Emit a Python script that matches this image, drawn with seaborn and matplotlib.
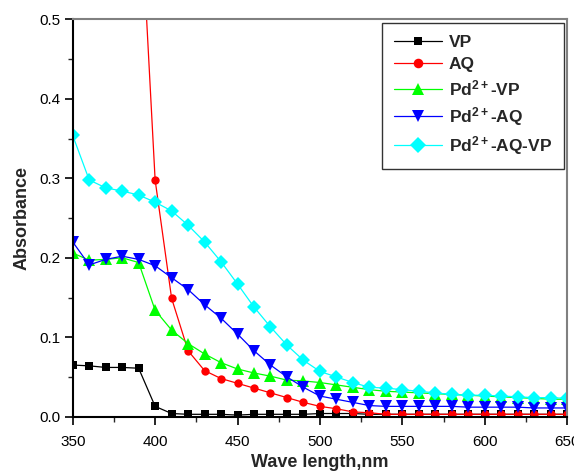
import matplotlib
matplotlib.use("Agg")
import matplotlib.pyplot as plt
from matplotlib.ticker import MultipleLocator
import seaborn as sns
import pandas as pd

wavelength = list(range(350, 651, 10))

vp = [0.065, 0.064, 0.062, 0.062, 0.061, 0.013, 0.004, 0.003, 0.003, 0.003,
      0.002, 0.003, 0.003, 0.003, 0.003, 0.004, 0.004, 0.004, 0.003, 0.003,
      0.003, 0.003, 0.003, 0.003, 0.003, 0.003, 0.003, 0.003, 0.003, 0.003, 0.003]
aq = [1.20, 1.05, 0.93, 0.81, 0.69, 0.298, 0.149, 0.083, 0.058, 0.048,
      0.042, 0.036, 0.030, 0.024, 0.018, 0.013, 0.010, 0.006, 0.005, 0.003,
      0.003, 0.003, 0.003, 0.003, 0.003, 0.003, 0.003, 0.003, 0.003, 0.003, 0.003]
pd_vp = [0.206, 0.197, 0.198, 0.200, 0.194, 0.134, 0.109, 0.092, 0.079, 0.068,
         0.060, 0.055, 0.051, 0.046, 0.045, 0.043, 0.040, 0.037, 0.034, 0.032,
         0.031, 0.030, 0.029, 0.028, 0.027, 0.026, 0.025, 0.024, 0.023, 0.022, 0.022]
pd_aq = [0.220, 0.191, 0.198, 0.202, 0.198, 0.190, 0.175, 0.160, 0.141, 0.124,
         0.104, 0.083, 0.065, 0.050, 0.037, 0.026, 0.022, 0.018, 0.014, 0.013,
         0.013, 0.013, 0.013, 0.013, 0.012, 0.012, 0.012, 0.012, 0.011, 0.011, 0.011]
pd_aq_vp = [0.354, 0.298, 0.288, 0.284, 0.279, 0.270, 0.259, 0.241, 0.220, 0.195,
            0.167, 0.138, 0.113, 0.090, 0.071, 0.057, 0.050, 0.043, 0.037, 0.036,
            0.034, 0.032, 0.030, 0.028, 0.027, 0.027, 0.026, 0.025, 0.024, 0.024, 0.023]

labels = ["VP", "AQ", r"Pd$^{2+}$-VP", r"Pd$^{2+}$-AQ", r"Pd$^{2+}$-AQ-VP"]
series = [vp, aq, pd_vp, pd_aq, pd_aq_vp]
colors = ["#000000", "#ff0000", "#00ff00", "#0000ff", "#00ffff"]
markers = ["s", "o", "^", "v", "D"]
msizes = [5.5, 6.0, 8.0, 8.0, 7.0]

sns.set_style("white")
plt.rcParams["font.family"] = ["Liberation Sans", "DejaVu Sans"]
plt.rcParams["mathtext.fontset"] = "custom"
plt.rcParams["mathtext.rm"] = "Liberation Sans:bold"
plt.rcParams["mathtext.it"] = "Liberation Sans:bold"
plt.rcParams["mathtext.bf"] = "Liberation Sans:bold"

fig = plt.figure(figsize=(5.74, 4.74), dpi=100)
ax = fig.add_axes([0.1267, 0.1209, 0.988 - 0.1267, 0.959 - 0.1209])

for lab, vals, c, m, ms in zip(labels, series, colors, markers, msizes):
    df = pd.DataFrame({"x": wavelength, "y": vals})
    sns.lineplot(data=df, x="x", y="y", ax=ax, color=c, marker=m,
                 markersize=ms, markeredgewidth=0, linewidth=0.9,
                 label=lab, legend=False)

ax.set_xlim(350, 650)
ax.set_ylim(0, 0.5)
ax.xaxis.set_major_locator(MultipleLocator(50))
ax.xaxis.set_minor_locator(MultipleLocator(25))
ax.yaxis.set_major_locator(MultipleLocator(0.1))
ax.yaxis.set_minor_locator(MultipleLocator(0.05))
ax.yaxis.set_major_formatter(matplotlib.ticker.FormatStrFormatter("%.1f"))

ax.tick_params(axis="both", which="major", direction="out", length=6, width=1.2,
               labelsize=11, bottom=True, left=True, top=False, right=False,
               colors="black")
ax.tick_params(axis="x", which="major", pad=7)
ax.tick_params(axis="y", which="major", pad=3)
ax.tick_params(axis="both", which="minor", direction="out", length=3.5, width=1.0,
               bottom=True, left=True, top=False, right=False)

for s in ["left", "bottom"]:
    ax.spines[s].set_color("black")
    ax.spines[s].set_linewidth(1.5)
for s in ["top", "right"]:
    ax.spines[s].set_color("#808080")
    ax.spines[s].set_linewidth(1.5)

ax.set_xlabel("Wave length,nm", fontsize=13, fontweight="bold", labelpad=4)
ax.set_ylabel("Absorbance", fontsize=13, fontweight="bold", labelpad=6)

leg = ax.legend(loc="upper right", frameon=True, fancybox=False, shadow=False,
                prop={"size": 12.5, "weight": "bold"}, handlelength=2.76,
                labelspacing=0.38, borderaxespad=0.2, borderpad=0.68,
                handletextpad=0.38, markerscale=1.15)
leg.get_frame().set_edgecolor("black")
leg.get_frame().set_linewidth(1.0)

fig.savefig("out.png", dpi=100)
